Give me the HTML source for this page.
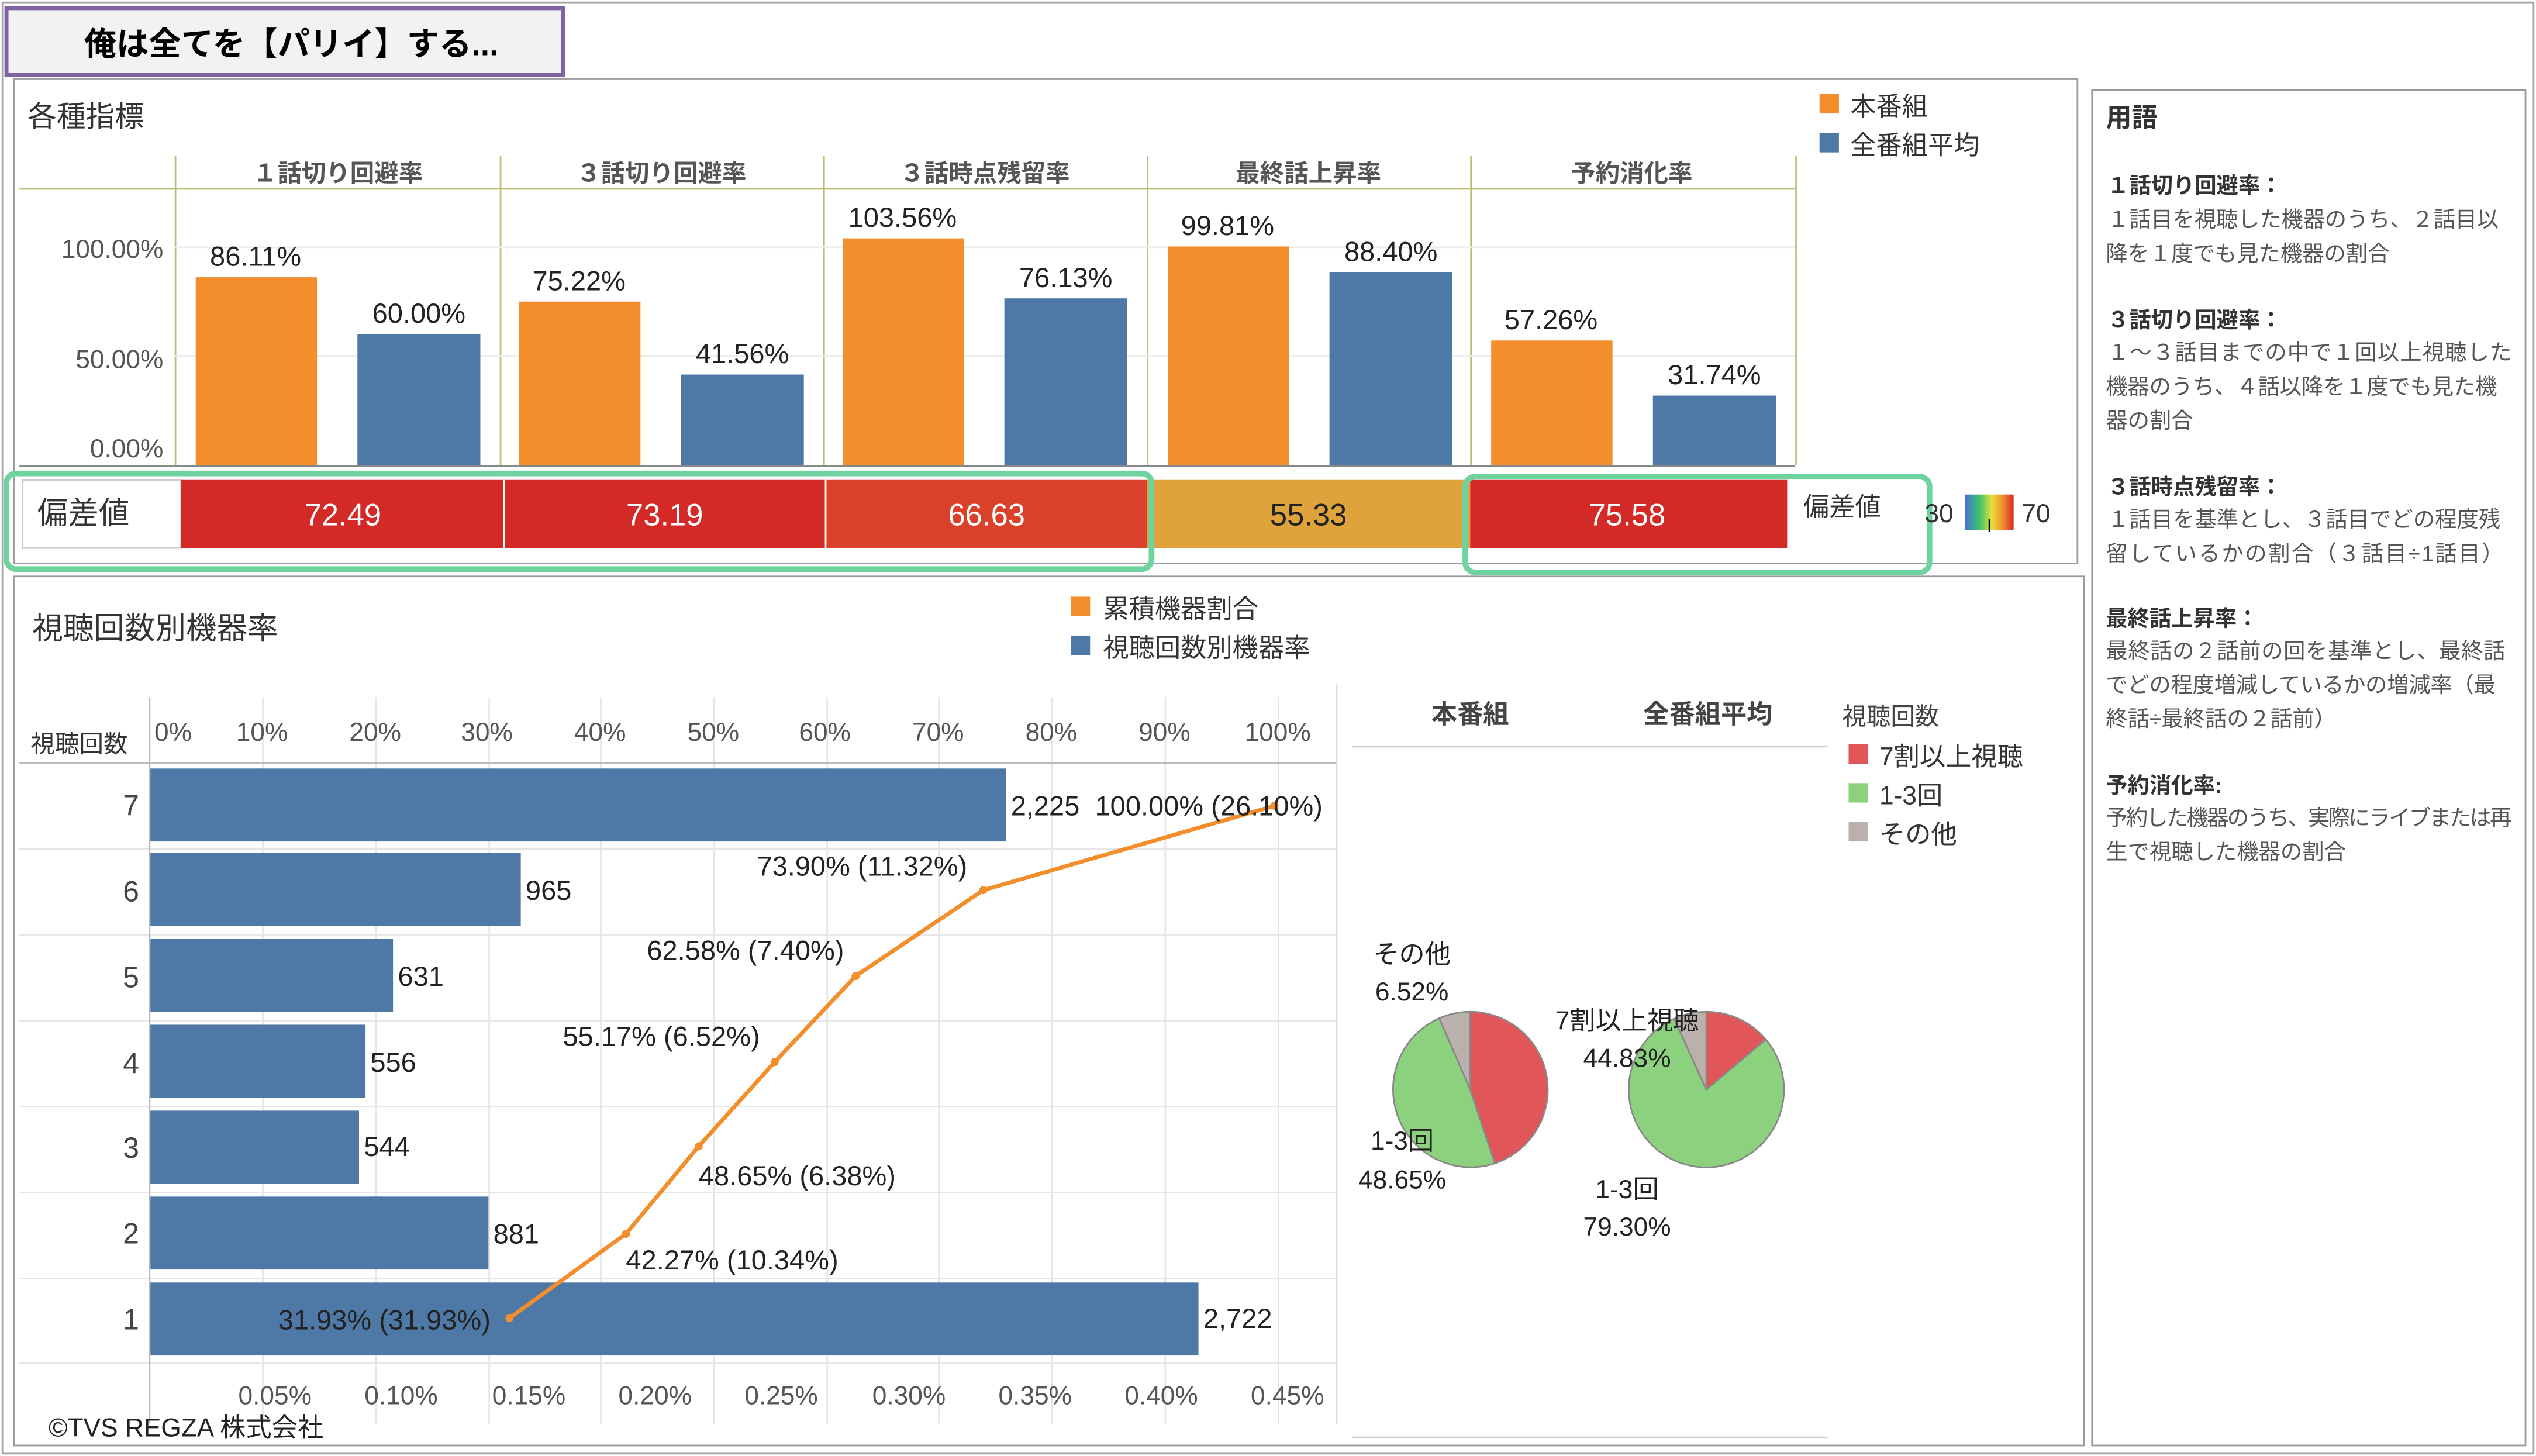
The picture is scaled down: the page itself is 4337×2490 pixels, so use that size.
<!DOCTYPE html>
<html><head><meta charset="utf-8"><style>
html,body{margin:0;padding:0;background:#fff;}
svg{display:block;}
text{font-family:"Liberation Sans","Noto Sans CJK JP",sans-serif;}
</style></head><body>
<svg width="4337" height="2490" viewBox="0 0 1568 898" preserveAspectRatio="none" xmlns="http://www.w3.org/2000/svg">
<rect x="0" y="0" width="1568" height="898" fill="#fff"/>
<rect x="1.5" y="1.5" width="1565" height="895" fill="none" stroke="#a6a6a6" stroke-width="1"/>
<rect x="4" y="5" width="344" height="41" fill="#f2f2f2" stroke="#8064a2" stroke-width="2.5"/>
<text x="52" y="34" font-size="20" font-weight="bold" fill="#000">俺は全てを【パリイ】する...</text>

<rect x="8.5" y="48.5" width="1276" height="299" fill="none" stroke="#9a9a9a"/>
<text x="17" y="78" font-size="18" fill="#333">各種指標</text>
<g stroke="#bdbd7a" stroke-width="1">
<line x1="108.5" y1="96" x2="108.5" y2="287"/><line x1="309.5" y1="96" x2="309.5" y2="287"/>
<line x1="509.5" y1="96" x2="509.5" y2="287"/><line x1="709.5" y1="96" x2="709.5" y2="287"/>
<line x1="909.5" y1="96" x2="909.5" y2="287"/><line x1="1110.5" y1="96" x2="1110.5" y2="287"/>
<line x1="12" y1="116.5" x2="1110" y2="116.5"/>
</g>
<g stroke="#ececec"><line x1="108" y1="152.5" x2="1110" y2="152.5"/><line x1="108" y1="219.5" x2="1110" y2="219.5"/></g>
<line x1="12" y1="287.5" x2="1110" y2="287.5" stroke="#888"/>
<g font-size="15" fill="#555" text-anchor="middle" font-weight="bold">
<text x="209" y="112">１話切り回避率</text><text x="409" y="112">３話切り回避率</text>
<text x="609" y="112">３話時点残留率</text><text x="809" y="112">最終話上昇率</text><text x="1009" y="112">予約消化率</text>
</g>
<g font-size="16" fill="#555" text-anchor="end">
<text x="101" y="159">100.00%</text><text x="101" y="227">50.00%</text><text x="101" y="282">0.00%</text>
</g>
<g fill="#f28e2b">
<rect x="121" y="171" width="75" height="116"/><rect x="321" y="186" width="75" height="101"/>
<rect x="521" y="147" width="75" height="140"/><rect x="722" y="152" width="75" height="135"/>
<rect x="922" y="210" width="75" height="77"/>
</g>
<g fill="#4e79a7">
<rect x="221" y="206" width="76" height="81"/><rect x="421" y="231" width="76" height="56"/>
<rect x="621" y="184" width="76" height="103"/><rect x="822" y="168" width="76" height="119"/>
<rect x="1022" y="244" width="76" height="43"/>
</g>
<g font-size="17" fill="#222" text-anchor="middle">
<text x="158" y="164">86.11%</text><text x="259" y="199">60.00%</text>
<text x="358" y="179">75.22%</text><text x="459" y="224">41.56%</text>
<text x="558" y="140">103.56%</text><text x="659" y="177">76.13%</text>
<text x="759" y="145">99.81%</text><text x="860" y="161">88.40%</text>
<text x="959" y="203">57.26%</text><text x="1060" y="237">31.74%</text>
</g>
<rect x="1125" y="58" width="12" height="12" fill="#f28e2b"/><text x="1144" y="71" font-size="16" fill="#333">本番組</text>
<rect x="1125" y="82" width="12" height="12" fill="#4e79a7"/><text x="1144" y="95" font-size="16" fill="#333">全番組平均</text>
<rect x="14" y="296" width="98" height="42" fill="#fff" stroke="#ccc"/>
<text x="23" y="323" font-size="19" fill="#333">偏差値</text>
<rect x="112" y="296" width="199" height="42" fill="#d42a27"/>
<rect x="311" y="296" width="199" height="42" fill="#d42a27"/>
<rect x="510" y="296" width="199" height="42" fill="#d9412a"/>
<rect x="709" y="296" width="200" height="42" fill="#dfa33c"/>
<rect x="909" y="296" width="196" height="42" fill="#d42a27"/>
<g stroke="#fff" stroke-width="1"><line x1="311.5" y1="296" x2="311.5" y2="338"/><line x1="510.5" y1="296" x2="510.5" y2="338"/></g>
<g font-size="19" text-anchor="middle">
<text x="212" y="324" fill="#fff">72.49</text><text x="411" y="324" fill="#fff">73.19</text>
<text x="610" y="324" fill="#fff">66.63</text><text x="809" y="324" fill="#222">55.33</text>
<text x="1006" y="324" fill="#fff">75.58</text>
</g>
<text x="1115" y="318" font-size="16" fill="#333">偏差値</text>
<rect x="4" y="292" width="708" height="59" rx="6" fill="none" stroke="#6fd3a0" stroke-width="3.5"/>
<rect x="906" y="294" width="287" height="59" rx="6" fill="none" stroke="#6fd3a0" stroke-width="3.5"/>
<defs><linearGradient id="rb" x1="0" x2="1"><stop offset="0" stop-color="#4b6fd8"/><stop offset="0.3" stop-color="#3cc46a"/><stop offset="0.55" stop-color="#e8e03a"/><stop offset="0.8" stop-color="#f0852c"/><stop offset="1" stop-color="#d42a27"/></linearGradient></defs>
<text x="1190" y="322" font-size="16" fill="#333">30</text>
<rect x="1215" y="305" width="30" height="22" fill="url(#rb)"/>
<line x1="1230" y1="320" x2="1230" y2="328" stroke="#000"/>
<text x="1250" y="322" font-size="16" fill="#333">70</text>

<rect x="1293.5" y="55.5" width="268" height="836" fill="none" stroke="#9a9a9a"/>
<text x="1302" y="78" font-size="16" font-weight="bold" fill="#333">用語</text>
<g font-size="13.5" fill="#555">
<text x="1303" y="119" font-weight="bold" fill="#333">１話切り回避率：</text>
<text x="1303" y="140" textLength="242">１話目を視聴した機器のうち、２話目以</text>
<text x="1302" y="161">降を１度でも見た機器の割合</text>
<text x="1303" y="202" font-weight="bold" fill="#333">３話切り回避率：</text>
<text x="1303" y="222" textLength="250">１～３話目までの中で１回以上視聴した</text>
<text x="1302" y="243" textLength="242">機器のうち、４話以降を１度でも見た機</text>
<text x="1302" y="264">器の割合</text>
<text x="1303" y="305" font-weight="bold" fill="#333">３話時点残留率：</text>
<text x="1303" y="325" textLength="243">１話目を基準とし、３話目でどの程度残</text>
<text x="1302" y="346" textLength="246">留しているかの割合（３話目÷1話目）</text>
<text x="1302" y="386" font-weight="bold" fill="#333">最終話上昇率：</text>
<text x="1302" y="406" textLength="247">最終話の２話前の回を基準とし、最終話</text>
<text x="1302" y="427" textLength="241">でどの程度増減しているかの増減率（最</text>
<text x="1302" y="448">終話÷最終話の２話前）</text>
<text x="1302" y="489" font-weight="bold" fill="#333">予約消化率:</text>
<text x="1302" y="509" textLength="251">予約した機器のうち、実際にライブまたは再</text>
<text x="1302" y="530">生で視聴した機器の割合</text>
</g>

<rect x="8.5" y="355.5" width="1280" height="536" fill="none" stroke="#9a9a9a"/>
<text x="20" y="394" font-size="19" fill="#333">視聴回数別機器率</text>
<rect x="662" y="368" width="12" height="12" fill="#f28e2b"/><text x="682" y="381" font-size="16" fill="#333">累積機器割合</text>
<rect x="662" y="392" width="12" height="12" fill="#4e79a7"/><text x="682" y="405" font-size="16" fill="#333">視聴回数別機器率</text>
<text x="19" y="464" font-size="15" fill="#333">視聴回数</text>
<g stroke="#e6e6e6">
<line x1="162.5" y1="430" x2="162.5" y2="878"/><line x1="232.5" y1="430" x2="232.5" y2="878"/>
<line x1="302.5" y1="430" x2="302.5" y2="878"/><line x1="371.5" y1="430" x2="371.5" y2="878"/>
<line x1="441.5" y1="430" x2="441.5" y2="878"/><line x1="511.5" y1="430" x2="511.5" y2="878"/>
<line x1="580.5" y1="430" x2="580.5" y2="878"/><line x1="650.5" y1="430" x2="650.5" y2="878"/>
<line x1="720.5" y1="430" x2="720.5" y2="878"/><line x1="790.5" y1="430" x2="790.5" y2="878"/>
<line x1="12" y1="523.5" x2="826" y2="523.5"/><line x1="12" y1="576.5" x2="826" y2="576.5"/>
<line x1="12" y1="629.5" x2="826" y2="629.5"/><line x1="12" y1="682.5" x2="826" y2="682.5"/>
<line x1="12" y1="735.5" x2="826" y2="735.5"/><line x1="12" y1="788.5" x2="826" y2="788.5"/>
<line x1="12" y1="840.5" x2="826" y2="840.5"/>
</g>
<line x1="12" y1="470.5" x2="826" y2="470.5" stroke="#bbb"/>
<line x1="92.5" y1="430" x2="92.5" y2="878" stroke="#bbb"/>
<line x1="826.5" y1="422" x2="826.5" y2="878" stroke="#ddd"/>
<g font-size="16" fill="#555" text-anchor="middle">
<text x="107" y="457">0%</text><text x="162" y="457">10%</text><text x="232" y="457">20%</text><text x="301" y="457">30%</text>
<text x="371" y="457">40%</text><text x="441" y="457">50%</text><text x="510" y="457">60%</text><text x="580" y="457">70%</text>
<text x="650" y="457">80%</text><text x="720" y="457">90%</text><text x="790" y="457">100%</text>
<text x="170" y="866">0.05%</text><text x="248" y="866">0.10%</text><text x="327" y="866">0.15%</text>
<text x="405" y="866">0.20%</text><text x="483" y="866">0.25%</text><text x="562" y="866">0.30%</text>
<text x="640" y="866">0.35%</text><text x="718" y="866">0.40%</text><text x="796" y="866">0.45%</text>
</g>
<g font-size="18" fill="#444" text-anchor="middle">
<text x="81" y="503">7</text><text x="81" y="556">6</text><text x="81" y="609">5</text><text x="81" y="662">4</text>
<text x="81" y="714">3</text><text x="81" y="767">2</text><text x="81" y="820">1</text>
</g>
<g fill="#4e79a7">
<rect x="93" y="474" width="529" height="45"/><rect x="93" y="526" width="229" height="45"/>
<rect x="93" y="579" width="150" height="45"/><rect x="93" y="632" width="133" height="45"/>
<rect x="93" y="685" width="129" height="45"/><rect x="93" y="738" width="209" height="45"/>
<rect x="93" y="791" width="648" height="45"/>
</g>
<g font-size="17" fill="#222">
<text x="625" y="503">2,225</text><text x="325" y="555">965</text><text x="246" y="608">631</text>
<text x="229" y="661">556</text><text x="225" y="713">544</text><text x="305" y="767">881</text>
<text x="744" y="819">2,722</text>
</g>
<polyline points="315,813 387,761 432,707 479,655 529,602 608,549 788,497" fill="none" stroke="#f28e2b" stroke-width="2.5"/>
<g fill="#f28e2b">
<circle cx="315" cy="813" r="2.5"/><circle cx="387" cy="761" r="2.5"/><circle cx="432" cy="707" r="2.5"/>
<circle cx="479" cy="655" r="2.5"/><circle cx="529" cy="602" r="2.5"/><circle cx="608" cy="549" r="2.5"/><circle cx="788" cy="497" r="2.5"/>
</g>
<g font-size="17" fill="#222">
<text x="677" y="503">100.00% (26.10%)</text>
<text x="468" y="540">73.90% (11.32%)</text>
<text x="400" y="592">62.58% (7.40%)</text>
<text x="348" y="645">55.17% (6.52%)</text>
<text x="432" y="731">48.65% (6.38%)</text>
<text x="387" y="783">42.27% (10.34%)</text>
<text x="172" y="820">31.93% (31.93%)</text>
</g>
<text x="30" y="886" font-size="16" fill="#222">©TVS REGZA 株式会社</text>

<g font-size="16" font-weight="bold" fill="#444" text-anchor="middle">
<text x="909" y="446">本番組</text><text x="1056" y="446">全番組平均</text>
</g>
<line x1="836" y1="460.5" x2="1130" y2="460.5" stroke="#ccc"/>
<line x1="836" y1="886.5" x2="1130" y2="886.5" stroke="#ccc"/>
<g stroke="#888" stroke-width="1">
<path d="M909,672 L909,624 A48,48 0 0 1 924.3,717.5 Z" fill="#e15759"/>
<path d="M909,672 L924.3,717.5 A48,48 0 0 1 889.9,628 Z" fill="#8cd17d"/>
<path d="M909,672 L889.9,628 A48,48 0 0 1 909,624 Z" fill="#bab0ac"/>
<path d="M1055,672 L1055,624 A48,48 0 0 1 1091.8,641.1 Z" fill="#e15759"/>
<path d="M1055,672 L1091.8,641.1 A48,48 0 1 1 1035.1,628.3 Z" fill="#8cd17d"/>
<path d="M1055,672 L1035.1,628.3 A48,48 0 0 1 1055,624 Z" fill="#bab0ac"/>
</g>
<g font-size="16" fill="#222" text-anchor="middle">
<text x="873" y="594">その他</text><text x="873" y="617">6.52%</text>
<text x="867" y="709">1-3回</text><text x="867" y="733">48.65%</text>
<text x="1006" y="635">7割以上視聴</text><text x="1006" y="658">44.83%</text>
<text x="1006" y="739">1-3回</text><text x="1006" y="762">79.30%</text>
</g>
<text x="1139" y="447" font-size="15" fill="#444">視聴回数</text>
<rect x="1143" y="459" width="12" height="12" fill="#e15759"/><text x="1162" y="472" font-size="16" fill="#333">7割以上視聴</text>
<rect x="1143" y="483" width="12" height="12" fill="#8cd17d"/><text x="1162" y="496" font-size="16" fill="#333">1-3回</text>
<rect x="1143" y="507" width="12" height="12" fill="#bab0ac"/><text x="1162" y="520" font-size="16" fill="#333">その他</text>
</svg>
</body></html>
